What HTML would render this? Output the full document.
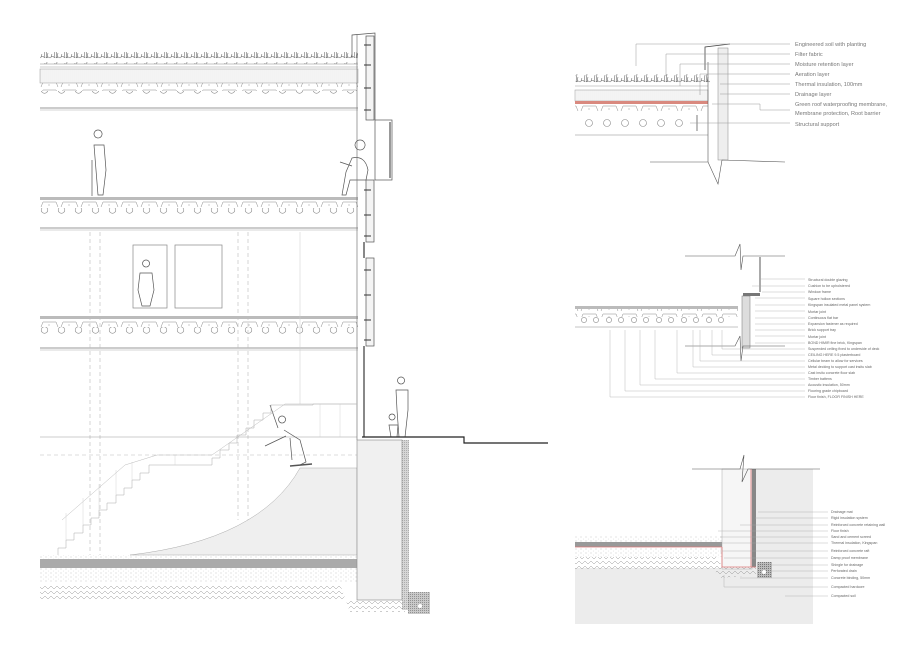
<!DOCTYPE html>
<html><head><meta charset="utf-8"><style>
html,body{margin:0;padding:0;background:#fff;}
svg{display:block;font-family:"Liberation Sans",sans-serif;}
.l{font-size:3.6px;fill:#666;}
.L{font-size:5.6px;fill:#777;}
</style></head><body>
<svg width="922" height="653" viewBox="0 0 922 653" xmlns="http://www.w3.org/2000/svg">
<defs>
<pattern id="circ" width="17" height="20" patternUnits="userSpaceOnUse" x="36" y="0">
<circle cx="8.5" cy="10" r="3.3" fill="none" stroke="#888" stroke-width="0.6"/></pattern>
<pattern id="trap" width="20" height="8" patternUnits="userSpaceOnUse">
<path d="M1 7 L3 2 L16 2 L18 7" fill="none" stroke="#888" stroke-width="0.5"/><circle cx="9" cy="5" r="0.5" fill="#777"/></pattern>
<pattern id="hatch" width="2" height="4" patternUnits="userSpaceOnUse">
<line x1="1" y1="0" x2="1" y2="4" stroke="#bbb" stroke-width="0.35"/></pattern>
<pattern id="dots" width="5" height="4" patternUnits="userSpaceOnUse">
<circle cx="1" cy="1" r="0.4" fill="#888"/><circle cx="3.5" cy="3" r="0.3" fill="#999"/></pattern>
<pattern id="zig" width="6" height="5" patternUnits="userSpaceOnUse">
<path d="M0 4 L3 1 L6 4" fill="none" stroke="#999" stroke-width="0.5"/></pattern>
<pattern id="plant" width="10" height="12" patternUnits="userSpaceOnUse">
<path d="M0 10 Q3 7 5 10 M4 10 L5 3 M6 10 L7 2 M7 10 L8 5 M6 10 Q8 8 10 10 M1 9 L2 6" fill="none" stroke="#555" stroke-width="0.5"/></pattern>
<pattern id="grid" width="2" height="2" patternUnits="userSpaceOnUse">
<rect width="2" height="2" fill="#bbb"/><rect width="1" height="1" fill="#777"/></pattern>
</defs>

<!-- LEFT SECTION -->
<rect x="40" y="52" width="318" height="12" fill="url(#plant)"/>
<line x1="40" y1="64" x2="358" y2="64" stroke="#888" stroke-width="0.6"/>
<line x1="40" y1="67" x2="358" y2="67" stroke="#999" stroke-width="0.5"/>
<rect x="40" y="69" width="318" height="14" fill="url(#hatch)" stroke="#999" stroke-width="0.5"/>
<rect x="40" y="83" width="318" height="8" fill="url(#trap)"/>
<rect x="40" y="91" width="318" height="14" fill="url(#circ)"/>
<line x1="40" y1="108" x2="358" y2="108" stroke="#777" stroke-width="0.7"/>
<line x1="40" y1="110" x2="358" y2="110" stroke="#aaa" stroke-width="0.5"/>
<rect x="40" y="197" width="318" height="3" fill="#bbb"/>
<rect x="40" y="201" width="318" height="8" fill="url(#trap)"/>
<rect x="40" y="208" width="318" height="14" fill="url(#circ)"/>
<line x1="40" y1="228" x2="358" y2="228" stroke="#777" stroke-width="0.7"/>
<line x1="40" y1="230" x2="358" y2="230" stroke="#aaa" stroke-width="0.5"/>
<rect x="40" y="316" width="318" height="3" fill="#bbb"/>
<rect x="40" y="320" width="318" height="8" fill="url(#trap)"/>
<rect x="40" y="327" width="318" height="14" fill="url(#circ)"/>
<line x1="40" y1="348" x2="358" y2="348" stroke="#777" stroke-width="0.7"/>
<line x1="40" y1="350" x2="358" y2="350" stroke="#aaa" stroke-width="0.5"/>
<g stroke="#bbb" stroke-width="0.6" stroke-dasharray="4,3">
<line x1="90" y1="232" x2="90" y2="555"/><line x1="100" y1="232" x2="100" y2="555"/>
<line x1="238" y1="232" x2="238" y2="520"/><line x1="248" y1="232" x2="248" y2="520"/>
<line x1="40" y1="455" x2="357" y2="455"/>
</g>
<line x1="40" y1="437" x2="357" y2="437" stroke="#999" stroke-width="0.6"/>
<line x1="300" y1="232" x2="300" y2="404" stroke="#ccc" stroke-width="0.5"/>
<rect x="133" y="245" width="34" height="63" fill="none" stroke="#888" stroke-width="0.7"/>
<rect x="175" y="245" width="47" height="63" fill="none" stroke="#888" stroke-width="0.7"/>
<g fill="none" stroke="#555" stroke-width="0.7">
<path d="M98 138 a4 4 0 1 1 0.1 0 M94 145 L104 145 L106 170 L103 195 L98 195 L96 170 Z M92 160 L92 196"/>
<path d="M360 150 a5 5 0 1 1 0.1 0 M352 158 Q365 155 368 170 L366 180 L350 180 L346 195 L342 195 L346 172 Z M340 162 L352 166"/>
<path d="M146 267 a3.5 3.5 0 1 1 0.1 0 M140 273 L152 273 L154 290 L150 306 L142 306 L138 290 Z"/>
<path d="M282 423 a3.5 3.5 0 1 1 0.1 0 M278 428 L270 405 M284 430 L300 440 L306 462 L300 465 M290 438 L292 460 M286 436 L265 446"/>
<path d="M290 466 L312 464" stroke-width="1.4"/>
<path d="M401 384 a3.5 3.5 0 1 1 0.1 0 M396 390 L408 390 L408 410 L405 437 L399 437 L397 410 Z M392 420 a3 3 0 1 1 0.1 0 M389 425 L398 425 L397 437 L391 437 Z"/>
</g>
<line x1="357" y1="35" x2="357" y2="440" stroke="#777" stroke-width="0.7"/>
<g stroke="#555" stroke-width="0.7" fill="none">
<path d="M352 58 L352 35 L375 33 L375 120"/>
<rect x="366" y="36" width="8" height="84" fill="#f4f4f4"/>
<rect x="375" y="120" width="17" height="60" fill="none"/>
<line x1="390" y1="122" x2="390" y2="178" stroke-width="1.2"/>
<rect x="366" y="180" width="8" height="62" fill="#f4f4f4"/>
<line x1="364" y1="242" x2="364" y2="258" stroke-width="1.4"/>
<rect x="366" y="258" width="8" height="88" fill="#f4f4f4"/>
<line x1="364" y1="346" x2="364" y2="437" stroke-width="1.4"/>
</g>
<g stroke="#333" stroke-width="1">
<line x1="364" y1="45" x2="371" y2="45"/><line x1="364" y1="65" x2="371" y2="65"/><line x1="364" y1="88" x2="371" y2="88"/><line x1="364" y1="110" x2="371" y2="110"/>
<line x1="364" y1="190" x2="371" y2="190"/><line x1="364" y1="215" x2="371" y2="215"/><line x1="364" y1="236" x2="371" y2="236"/>
<line x1="364" y1="270" x2="371" y2="270"/><line x1="364" y1="295" x2="371" y2="295"/><line x1="364" y1="320" x2="371" y2="320"/><line x1="364" y1="340" x2="371" y2="340"/>
</g>
<path d="M362 437 L464 437 L464 443 L548 443" fill="none" stroke="#222" stroke-width="1.2"/>
<path d="M130 555 Q260 540 300 468 L357 468 L357 555 Z" fill="#efefef" stroke="#aaa" stroke-width="0.5"/>
<!-- stairs -->
<path d="M58 555 L58 548 L66 548 L66 540 L74 540 L74 533 L83 533 L83 525 L91 525 L91 518 L99 518 L99 510 L107 510 L107 503 L116 503 L116 495 L124 495 L124 488 L132 488 L132 480 L140 480 L140 473 L149 473 L149 465 L212 465 L212 458 L220 458 L220 450 L229 450 L229 443 L237 443 L237 435 L246 435 L246 428 L254 428 L254 420 L263 420 L263 413 L271 413 L271 405 L313 405 L313 404 L357 404" fill="none" stroke="#aaa" stroke-width="0.5"/>
<path d="M62 520 L125 465 L157 455 L212 455 L285 404 M285 404 L357 404" fill="none" stroke="#bbb" stroke-width="0.5"/>
<g stroke="#ccc" stroke-width="0.4">
<line x1="66" y1="513" x2="66" y2="540"/><line x1="83" y1="498" x2="83" y2="525"/><line x1="99" y1="484" x2="99" y2="510"/><line x1="116" y1="470" x2="116" y2="495"/><line x1="132" y1="462" x2="132" y2="480"/><line x1="175" y1="455" x2="175" y2="465"/><line x1="229" y1="443" x2="229" y2="450"/><line x1="246" y1="430" x2="246" y2="435"/><line x1="320" y1="404" x2="320" y2="437"/><line x1="340" y1="404" x2="340" y2="437"/>
</g>
<rect x="40" y="555" width="317" height="4" fill="url(#dots)"/>
<rect x="40" y="559" width="317" height="9" fill="#aaa"/>
<rect x="40" y="568" width="317" height="14" fill="url(#dots)"/>
<path d="M40 584 L340 584 L350 612 L405 612 L405 600 L40 600 Z" fill="url(#zig)"/>
<rect x="357" y="440" width="45" height="160" fill="#f0f0f0" stroke="#888" stroke-width="0.6"/>
<rect x="402" y="440" width="7" height="170" fill="url(#grid)" opacity="0.6"/>
<rect x="408" y="592" width="22" height="22" fill="url(#grid)" opacity="0.8"/>
<circle cx="420" cy="606" r="2" fill="#fff"/>

<!-- DETAIL 1 -->
<rect x="575" y="72" width="135" height="12" fill="url(#plant)"/>
<line x1="575" y1="86" x2="708" y2="86" stroke="#999" stroke-width="0.5"/>
<rect x="575" y="90" width="133" height="11" fill="url(#hatch)" stroke="#999" stroke-width="0.5"/>
<rect x="575" y="101" width="133" height="3" fill="#d9897f"/>
<rect x="575" y="105" width="133" height="8" fill="url(#trap)"/>
<g fill="none" stroke="#888" stroke-width="0.6">
<circle cx="589" cy="123" r="3.5"/><circle cx="607" cy="123" r="3.5"/><circle cx="625" cy="123" r="3.5"/><circle cx="643" cy="123" r="3.5"/><circle cx="661" cy="123" r="3.5"/><circle cx="679" cy="123" r="3.5"/></g>
<line x1="575" y1="135" x2="708" y2="135" stroke="#888" stroke-width="0.6"/>
<line x1="697" y1="115" x2="697" y2="131" stroke="#444" stroke-width="0.7"/>
<path d="M705 70 L705 47 L730 44" fill="none" stroke="#444" stroke-width="0.8"/>
<rect x="718" y="48" width="10" height="112" fill="#eee" stroke="#888" stroke-width="0.5"/>
<path d="M708 62 L708 162 M650 162 L708 162 L718 184 L722 160 L785 162" fill="none" stroke="#555" stroke-width="0.6"/>
<g stroke="#999" stroke-width="0.5" fill="none">
<path d="M636 66 L636 44 L790 44"/><path d="M666 76 L666 54 L790 54"/><path d="M680 86 L680 64 L790 64"/><path d="M700 95 L700 74 L790 74"/><line x1="720" y1="84" x2="790" y2="84"/><line x1="720" y1="94" x2="790" y2="94"/><path d="M712 104 L760 104 L760 110 L790 110"/><line x1="690" y1="123" x2="790" y2="123"/>
</g>
<g class="L">
<text x="795" y="46">Engineered soil with planting</text>
<text x="795" y="56">Filter fabric</text>
<text x="795" y="66">Moisture retention layer</text>
<text x="795" y="76">Aeration layer</text>
<text x="795" y="86">Thermal insulation, 100mm</text>
<text x="795" y="96">Drainage layer</text>
<text x="795" y="106">Green roof waterproofing membrane,</text>
<text x="795" y="115">Membrane protection, Root barrier</text>
<text x="795" y="126">Structural support</text>
</g>

<!-- DETAIL 2 -->
<path d="M685 256 L735 256 L740 244 L741 270 L743 256 L785 256" fill="none" stroke="#555" stroke-width="0.6"/>
<line x1="760" y1="257" x2="760" y2="292" stroke="#444" stroke-width="0.9"/>
<rect x="743" y="293" width="17" height="3" fill="#777"/>
<rect x="742" y="296" width="8" height="52" fill="#ddd" stroke="#777" stroke-width="0.5"/>
<rect x="575" y="306" width="163" height="3" fill="#bbb"/>
<rect x="575" y="309" width="163" height="8" fill="url(#trap)"/>
<g fill="none" stroke="#888" stroke-width="0.6">
<circle cx="584" cy="320" r="2.6"/><circle cx="596" cy="320" r="2.6"/><circle cx="609" cy="320" r="2.6"/><circle cx="621" cy="320" r="2.6"/><circle cx="634" cy="320" r="2.6"/><circle cx="646" cy="320" r="2.6"/><circle cx="659" cy="320" r="2.6"/><circle cx="671" cy="320" r="2.6"/><circle cx="684" cy="320" r="2.6"/><circle cx="696" cy="320" r="2.6"/><circle cx="709" cy="320" r="2.6"/><circle cx="721" cy="320" r="2.6"/></g>
<line x1="575" y1="327" x2="738" y2="327" stroke="#888" stroke-width="0.5"/>
<path d="M685 346 L735 346 L740 336 L741 361 L743 346 L785 346" fill="none" stroke="#555" stroke-width="0.6"/>
<g stroke="#aaa" stroke-width="0.4" fill="none">
<path d="M760 279 L805 279"/><path d="M752 286 L805 286"/><path d="M762 292 L805 292"/><line x1="755" y1="298" x2="805" y2="298"/><line x1="755" y1="305" x2="805" y2="305"/><line x1="755" y1="311" x2="805" y2="311"/><line x1="755" y1="318" x2="805" y2="318"/><line x1="755" y1="324" x2="805" y2="324"/><line x1="755" y1="330" x2="805" y2="330"/><line x1="755" y1="336" x2="805" y2="336"/><line x1="755" y1="343" x2="805" y2="343"/>
<path d="M722 330 L722 349 L805 349"/><path d="M712 330 L712 355 L805 355"/><path d="M700 330 L700 361 L805 361"/><path d="M693 330 L693 367 L805 367"/><path d="M677 330 L677 373 L805 373"/><path d="M655 330 L655 379 L805 379"/><path d="M640 330 L640 385 L805 385"/><path d="M625 330 L625 391 L805 391"/><path d="M610 330 L610 397 L805 397"/>
</g>
<g class="l">
<text x="808" y="281">Structural double glazing</text>
<text x="808" y="287">Cushion to be upholstered</text>
<text x="808" y="293">Window frame</text>
<text x="808" y="300">Square hollow sections</text>
<text x="808" y="306">Kingspan insulated metal panel system</text>
<text x="808" y="313">Mortar joint</text>
<text x="808" y="319">Continuous flat bar</text>
<text x="808" y="325">Expansion fastener as required</text>
<text x="808" y="331">Brick support tray</text>
<text x="808" y="338">Mortar joint</text>
<text x="808" y="344">BOND HIMIR fine brick, Kingspan</text>
<text x="808" y="350">Suspended ceiling fixed to underside of deck</text>
<text x="808" y="356">CEILING HERE 9.5 plasterboard</text>
<text x="808" y="362">Cellular beam to allow for services</text>
<text x="808" y="368">Metal decking to support cast insitu slab</text>
<text x="808" y="374">Cast insitu concrete floor slab</text>
<text x="808" y="380">Timber battens</text>
<text x="808" y="386">Acoustic insulation, 50mm</text>
<text x="808" y="392">Flooring grade chipboard</text>
<text x="808" y="398">Floor finish, FLOOR FINISH HERE</text>
</g>

<!-- DETAIL 3 -->
<rect x="722" y="469" width="91" height="155" fill="#ececec"/>
<rect x="575" y="568" width="238" height="56" fill="#ececec"/>
<rect x="722" y="469" width="30" height="100" fill="#f6f6f6" stroke="#999" stroke-width="0.4"/>
<rect x="752" y="469" width="4" height="98" fill="#888"/>
<line x1="751" y1="469" x2="751" y2="567" stroke="#d77" stroke-width="0.8"/>
<path d="M692 469 L740 469 L744 455 L742 482 L748 469 L820 469" fill="none" stroke="#555" stroke-width="0.6"/>
<rect x="575" y="536" width="147" height="6" fill="url(#dots)"/>
<rect x="575" y="542" width="147" height="5" fill="#999"/>
<line x1="575" y1="547" x2="722" y2="547" stroke="#d77" stroke-width="0.8"/>
<rect x="575" y="548" width="147" height="9" fill="url(#dots)"/>
<path d="M575 557 L718 557 L722 567 L756 567 L756 575 L720 578 L715 571 L575 571 Z" fill="url(#zig)"/>
<path d="M722 547 L722 567 L756 567" fill="none" stroke="#d77" stroke-width="0.8"/>
<rect x="757" y="562" width="15" height="16" fill="url(#grid)"/>
<circle cx="764" cy="572" r="2" fill="#fff"/>
<g stroke="#aaa" stroke-width="0.4" fill="none">
<line x1="758" y1="512" x2="828" y2="512"/><line x1="755" y1="518" x2="828" y2="518"/><line x1="740" y1="525" x2="828" y2="525"/><line x1="718" y1="531" x2="828" y2="531"/><line x1="720" y1="537" x2="828" y2="537"/><line x1="720" y1="543" x2="828" y2="543"/><line x1="720" y1="551" x2="828" y2="551"/><line x1="724" y1="558" x2="828" y2="558"/><line x1="770" y1="565" x2="828" y2="565"/><line x1="770" y1="571" x2="828" y2="571"/><line x1="740" y1="578" x2="828" y2="578"/><path d="M724 575 L724 587 L828 587"/><line x1="785" y1="596" x2="828" y2="596"/>
</g>
<g class="l">
<text x="831" y="513">Drainage mat</text>
<text x="831" y="519">Rigid insulation system</text>
<text x="831" y="526">Reinforced concrete retaining wall</text>
<text x="831" y="532">Floor finish</text>
<text x="831" y="538">Sand and cement screed</text>
<text x="831" y="544">Thermal insulation, Kingspan</text>
<text x="831" y="552">Reinforced concrete raft</text>
<text x="831" y="559">Damp proof membrane</text>
<text x="831" y="566">Shingle for drainage</text>
<text x="831" y="572">Perforated drain</text>
<text x="831" y="579">Concrete binding, 50mm</text>
<text x="831" y="588">Compacted hardcore</text>
<text x="831" y="597">Compacted soil</text>
</g>
</svg>
</body></html>
